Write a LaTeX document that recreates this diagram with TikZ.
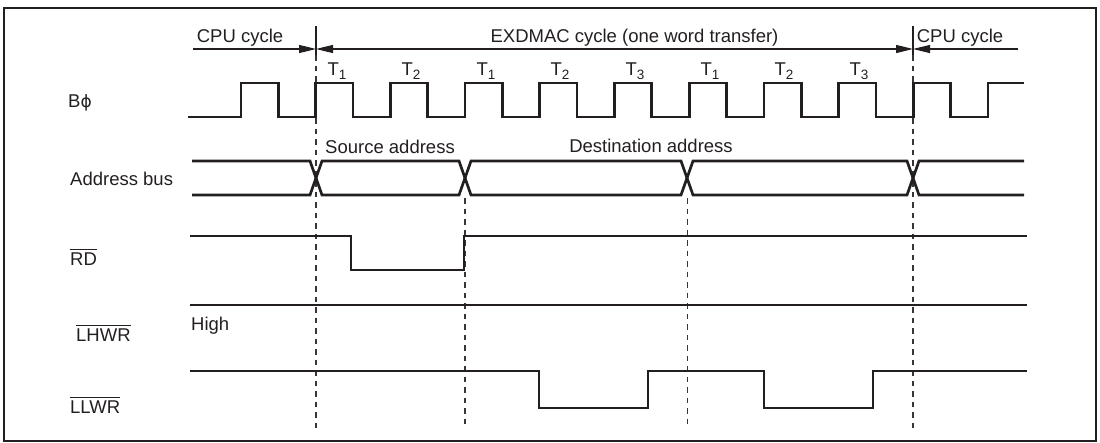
\documentclass[tikz,border=0pt]{standalone}
\usepackage{fontspec}
\setmainfont{Liberation Sans}
\newfontfamily\phifont{DejaVu Sans}
\usetikzlibrary{arrows.meta}
\definecolor{ink}{RGB}{35,31,32}
\newcommand{\ovbar}[1]{\vbox{\hrule height 0.8pt\kern 2.8pt\hbox{#1}}}
\newcommand{\Tsub}[1]{T\raisebox{-0.5ex}{\fontsize{13.5}{14}\selectfont #1}}
\begin{document}
\begin{tikzpicture}[x=1pt,y=-1pt,
  font=\fontsize{18.5}{22}\selectfont,
  sig/.style={line width=2.7pt, draw=ink, line join=miter},
  frame/.style={line width=2.8pt, draw=ink},
  guide/.style={line width=1.2pt, draw=ink!90, dash pattern=on 5.5pt off 5pt},
  tick/.style={line width=1.2pt, draw=ink},
  span/.style={line width=1.2pt, draw=ink},
  tip/.style={-{Triangle[length=17pt,width=8pt]}},
  tips/.style={{Triangle[length=17pt,width=8pt]}-{Triangle[length=17pt,width=8pt]}},
  lbl/.style={inner sep=0pt, text=ink, anchor=base west},
  clbl/.style={inner sep=0pt, text=ink, anchor=base}]
\useasboundingbox (0,0) rectangle (1100,442);
\draw[frame] (4,8) rectangle (1096,441);

% reference coordinates
\coordinate (c1) at (316,49);
\coordinate (c2) at (913,49);
\coordinate (l0) at (193,49);
\coordinate (r0) at (1018,49);

% top ticks and cycle arrows
\draw[tick] (316,26) -- (316,55);
\draw[tick] (913,26) -- (913,55);
\draw[span,tip] (l0) -- (c1);
\draw[span,tips] (c1) -- (c2);
\draw[span,tip] (r0) -- (c2);
\node[clbl] (cpu1) at (240,42) {CPU cycle};
\node[clbl] (exd) at (634.5,42) {EXDMAC cycle (one word transfer)};
\node[clbl] (cpu2) at (960,42) {CPU cycle};

% dashed guides
\draw[guide] (316,55) -- (316,428);
\draw[guide] (913,55) -- (913,428);
\draw[guide] (465,198) -- (465,428);
\draw[guide] (687.5,198) -- (687.5,428);

% T labels
\node[clbl] (t1a) at (337,75) {\Tsub{1}};
\node[clbl] (t2a) at (411,75) {\Tsub{2}};
\node[clbl] (t1b) at (486,75) {\Tsub{1}};
\node[clbl] (t2b) at (560,75) {\Tsub{2}};
\node[clbl] (t3a) at (635,75) {\Tsub{3}};
\node[clbl] (t1c) at (710,75) {\Tsub{1}};
\node[clbl] (t2c) at (784,75) {\Tsub{2}};
\node[clbl] (t3b) at (859,75) {\Tsub{3}};

% signal names
\node[lbl] (nphi) at (68,107) {B{\phifont\fontsize{17}{20}\selectfont ϕ}};
\node[lbl] (naddr) at (70,185) {Address bus};
\node[lbl] (nrd) at (70,265) {\ovbar{RD}};
\node[lbl] (nlhwr) at (76,341) {\ovbar{LHWR}};
\node[lbl] (nllwr) at (70,413) {\ovbar{LLWR}};
\node[lbl] (nhigh) at (191,330) {High};
\node[clbl] (nsrc) at (390,153) {Source address};
\node[clbl] (ndst) at (651,152) {Destination address};

% clock
\draw[sig] (188,117)
  -| (241,83) -| (278.3,117)
  -| (315.7,83) -| (353,117)
  -| (390.4,83) -| (427.7,117)
  -| (465.1,83) -| (502.4,117)
  -| (539.8,83) -| (577.1,117)
  -| (614.5,83) -| (651.8,117)
  -| (689.2,83) -| (726.5,117)
  -| (763.9,83) -| (801.2,117)
  -| (838.6,83) -| (875.9,117)
  -| (913.3,83) -| (950.6,117)
  -| (988,83) -- (1024,83);

% address bus
\draw[sig] (192,161) -- (310,161) -- (322,195) -- (459,195) -- (471,161)
  -- (681,161) -- (693,195) -- (907,195) -- (919,161) -- (1024,161);
\draw[sig] (192,195) -- (310,195) -- (322,161) -- (459,161) -- (471,195)
  -- (681,195) -- (693,161) -- (907,161) -- (919,195) -- (1024,195);

% RD
\draw[sig] (190,236) -| (351,270) -| (464,236) -- (1027,236);
% LHWR
\draw[sig] (190,305) -- (1027,305);
% LLWR
\draw[sig] (190,371) -| (539,408) -| (648,371) -| (764,408) -| (873,371) -- (1027,371);
\end{tikzpicture}
\end{document}
